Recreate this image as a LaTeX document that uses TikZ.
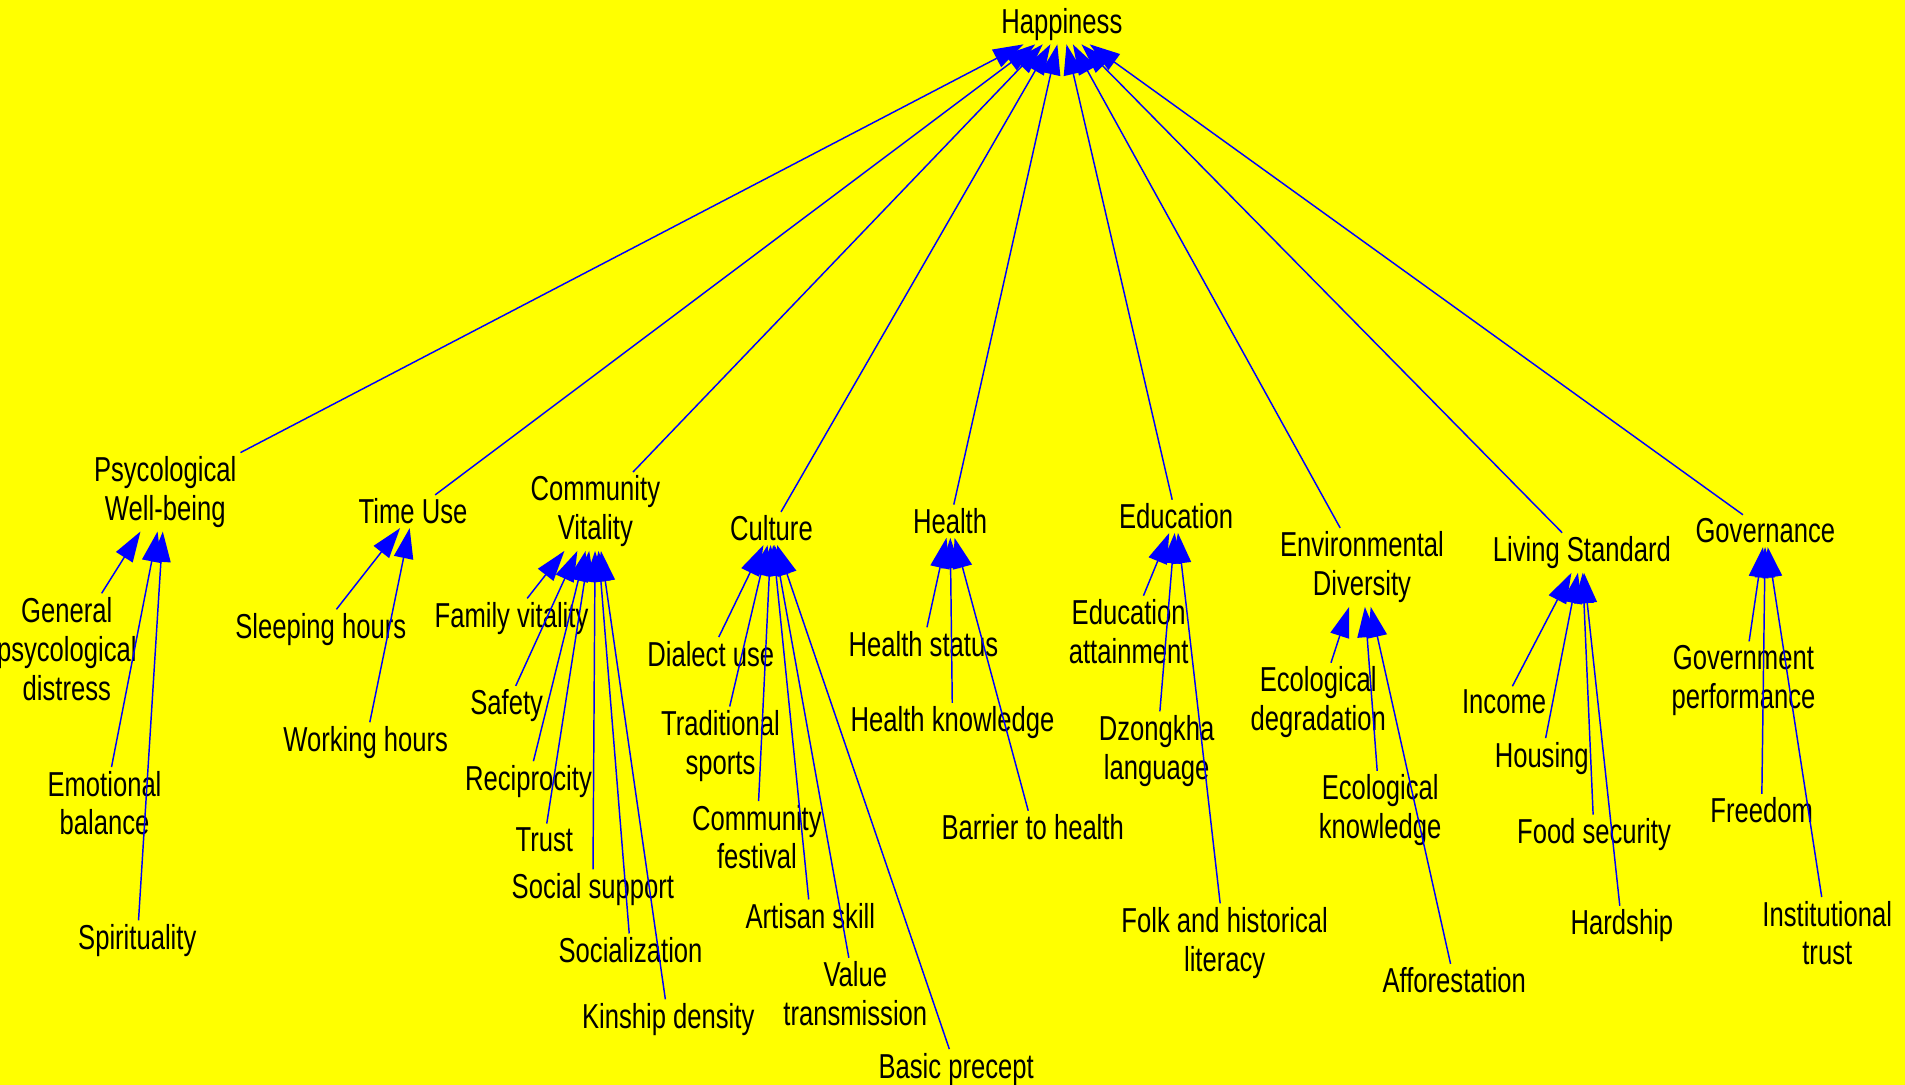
\documentclass[tikz,border=0pt]{standalone}
\usepackage{fontspec}
\setmainfont[FakeStretch=0.74]{Liberation Sans}
\usetikzlibrary{arrows.meta}
\definecolor{bgyellow}{RGB}{255,255,0}
\definecolor{edgeblue}{RGB}{0,0,255}
\tikzset{
  lbl/.style={align=center, inner xsep=4pt, inner ysep=3pt, text=black,
    font=\fontsize{28.5}{32}\selectfont},
  link/.style={draw=edgeblue, line width=1.2pt,
    -{Triangle[length=25pt,width=16pt]}, fill=none},
}
\begin{document}
\begin{tikzpicture}[x=1pt,y=-1pt]
\fill[bgyellow] (0,0) rectangle (1568,893);
\useasboundingbox (0,0) rectangle (1568,893);
% top
\node[lbl] (hap) at (874,20) {Happiness};
% level 1
\node[lbl] (pwb) at (136,405) {Psycological\\Well-being};
\node[lbl] (tu)  at (340,421) {Time Use};
\node[lbl] (cv)  at (490,421) {Community\\Vitality};
\node[lbl] (cul) at (635,435) {Culture};
\node[lbl] (hea) at (782,429) {Health};
\node[lbl] (edu) at (968,425) {Education};
\node[lbl] (env) at (1121,467) {Environmental\\Diversity};
\node[lbl] (ls)  at (1302,455) {Living Standard};
\node[lbl] (gov) at (1453,437) {Governance};
% level 2
\node[lbl] (gpd) at (55,534) {General\\psycological\\distress};
\node[lbl] (emo) at (86,661) {Emotional\\balance};
\node[lbl] (spi) at (113,774) {Spirituality};
\node[lbl] (sle) at (264,518) {Sleeping hours};
\node[lbl] (wor) at (301,611) {Working hours};
\node[lbl] (fam) at (421,509) {Family vitality};
\node[lbl] (saf) at (417,581) {Safety};
\node[lbl] (rec) at (435,643) {Reciprocity};
\node[lbl] (tru) at (448,691) {Trust};
\node[lbl] (soc) at (488,732) {Social support};
\node[lbl] (szn) at (519,782) {Socialization};
\node[lbl] (kin) at (550,839) {Kinship density};
\node[lbl] (dia) at (585,538) {Dialect use};
\node[lbl] (tra) at (593,614) {Traditional\\sports};
\node[lbl] (fes) at (623,689) {Community\\festival};
\node[lbl] (art) at (667,754) {Artisan skill};
\node[lbl] (val) at (704,818) {Value\\transmission};
\node[lbl] (bas) at (787,880) {Basic precept};
\node[lbl] (hst) at (760,530) {Health status};
\node[lbl] (hkn) at (784,595) {Health knowledge};
\node[lbl] (bar) at (850,681) {Barrier to health};
\node[lbl] (eat) at (929,520) {Education\\attainment};
\node[lbl] (dzo) at (952,618) {Dzongkha\\language};
\node[lbl] (fol) at (1008,776) {Folk and historical\\literacy};
\node[lbl] (ecd) at (1085,578) {Ecological\\degradation};
\node[lbl] (eck) at (1136,667) {Ecological\\knowledge};
\node[lbl] (aff) at (1197,807) {Afforestation};
\node[lbl] (inc) at (1238,578) {Income};
\node[lbl] (hou) at (1269,624) {Housing};
\node[lbl] (foo) at (1312,687) {Food security};
\node[lbl] (har) at (1335,762) {Hardship};
\node[lbl] (gop) at (1435,560) {Government\\performance};
\node[lbl] (fre) at (1450,667) {Freedom};
\node[lbl] (ins) at (1504,768) {Institutional\\trust};
% edges to Happiness
\foreach \c in {pwb,tu,cv,cul,hea,edu,env,ls,gov}
  \draw[link] (\c) -- (hap);
% edges to level 1
\foreach \c in {gpd,emo,spi} \draw[link] (\c) -- (pwb);
\foreach \c in {sle,wor} \draw[link] (\c) -- (tu);
\foreach \c in {fam,saf,rec,tru,soc,szn,kin} \draw[link] (\c) -- (cv);
\foreach \c in {dia,tra,fes,art,val,bas} \draw[link] (\c) -- (cul);
\foreach \c in {hst,hkn,bar} \draw[link] (\c) -- (hea);
\foreach \c in {eat,dzo,fol} \draw[link] (\c) -- (edu);
\foreach \c in {ecd,eck,aff} \draw[link] (\c) -- (env);
\foreach \c in {inc,hou,foo,har} \draw[link] (\c) -- (ls);
\foreach \c in {gop,fre,ins} \draw[link] (\c) -- (gov);
\end{tikzpicture}
\end{document}
